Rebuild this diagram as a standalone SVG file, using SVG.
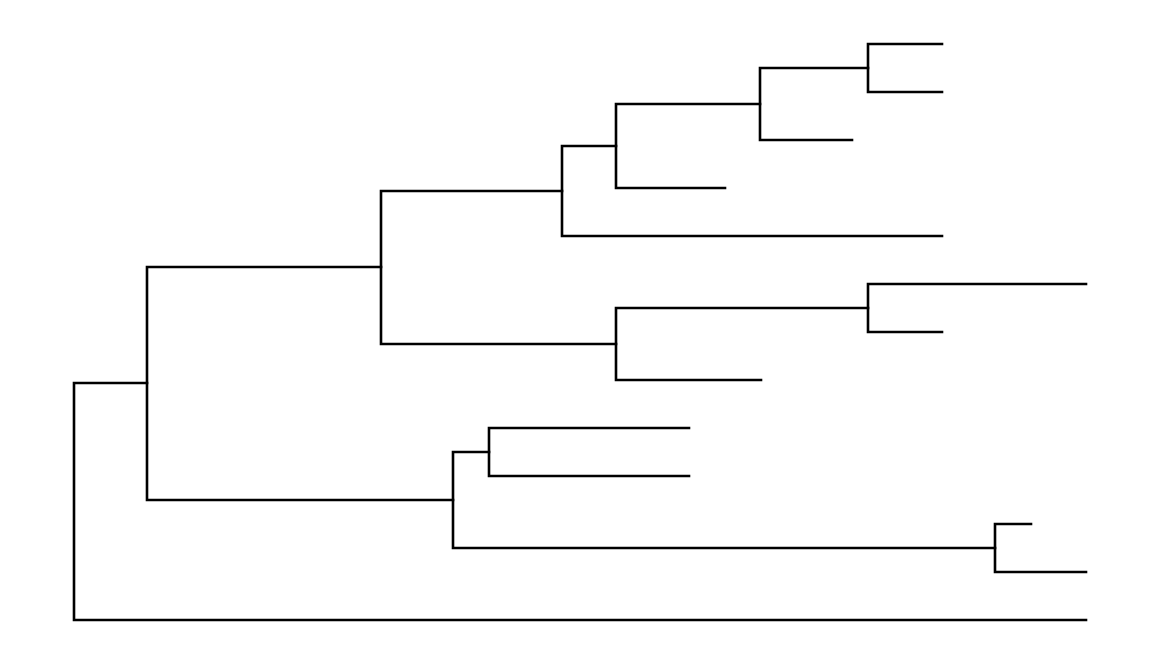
<svg xmlns="http://www.w3.org/2000/svg" width="1152" height="672" viewBox="0 0 1152 672">
<style>
.b{fill:none;stroke:#000;stroke-width:2.6;stroke-linecap:square;stroke-linejoin:miter}
</style>
<rect width="1152" height="672" fill="#fff"/>
<g id="connectors">
<path id="nA" class="b" d="M942 44H868V92H942"/>
<path id="nB" class="b" d="M868 68H760V140H852"/>
<path id="nC" class="b" d="M760 104H616V188H725"/>
<path id="nD" class="b" d="M616 146H562V236H942"/>
<path id="nE" class="b" d="M1086 284H868V332H942"/>
<path id="nF" class="b" d="M868 308H616V380H761"/>
<path id="nG" class="b" d="M562 191H381V344H616"/>
<path id="nH" class="b" d="M689 428H489V476H689"/>
<path id="nI" class="b" d="M1031 524H995V572H1086"/>
<path id="nJ" class="b" d="M489 452H453V548H995"/>
<path id="nK" class="b" d="M381 267H147V500H453"/>
<path id="nL" class="b" d="M147 383H74V620H1086"/>
</g>
</svg>
